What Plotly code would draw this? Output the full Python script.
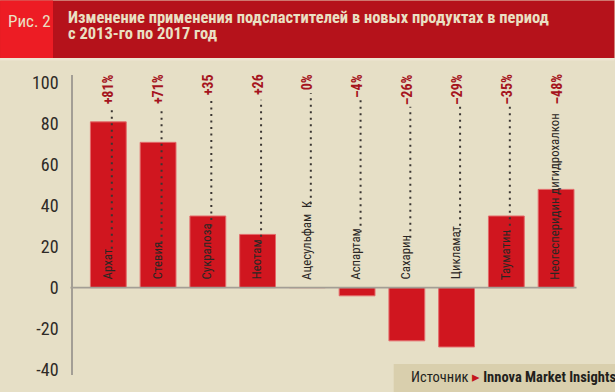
import plotly.graph_objects as go

# ---- data ----
categories = ["Архат", "Стевия", "Сукралоза", "Неотам", "Ацесульфам  К",
              "Аспартам", "Сахарин", "Цикламат", "Тауматин",
              "Неогесперидин дигидрохалкон"]
values = [81, 71, 35, 26, 0, -4, -26, -29, 35, 48]
pct_labels = ["+81%", "+71%", "+35", "+26", "0%", "–4%", "–26%", "–29%", "–35%", "–48%"]
tick_vals = [-40, -20, 0, 20, 40, 60, 80, 100]
tick_text = ["-40", "-20", "0", "20", "40", "60", "80", "100"]
title_line1 = "Изменение применения подсластителей в новых продуктах в период"
title_line2 = "с 2013-го по 2017 год"
fig_label = "Рис. 2"
source_lbl = "Источник"
source_name = "Innova Market Insights"

# ---- styles / geometry ----
W, H = 615, 392
BG = "#E6DFC6"
HEAD = "#B5121B"
HEAD_BOX = "#ED1C24"
CREAM = "#EAE0C4"
BAR = "#D0161F"
BAR_EDGE = "#E36A6A"
PCT = "#A5141D"
FONT = "Roboto Condensed, Open Sans Condensed, sans-serif"

L, R, T, B = 73, 576.5, 75, 377
YMIN, YMAX = -42.7, 103.9
XMIN, XMAX = -0.71, 9.4
PPU = (B - T) / (YMAX - YMIN)


def px2y(py):
    return YMAX - (py - T) / PPU


def pxx(px):
    return (px - L) / (R - L)


def pxy(py):
    return (B - py) / (B - T)


fig = go.Figure()
fig.add_trace(go.Bar(
    x=list(range(len(categories))), y=values,
    marker=dict(color=BAR, line=dict(color=BAR_EDGE, width=1)),
    width=0.72, hoverinfo="skip", showlegend=False,
))

shapes = []
annotations = []

# header band
shapes.append(dict(type="rect", xref="paper", yref="paper",
                   x0=pxx(0), x1=pxx(W), y0=pxy(0), y1=pxy(58),
                   fillcolor=HEAD, line=dict(width=0), layer="above"))
shapes.append(dict(type="rect", xref="paper", yref="paper",
                   x0=pxx(0), x1=pxx(53), y0=pxy(0), y1=pxy(58),
                   fillcolor=HEAD_BOX, line=dict(width=0), layer="above"))
shapes.append(dict(type="rect", xref="paper", yref="paper",
                   x0=pxx(0), x1=pxx(W), y0=pxy(58), y1=pxy(60.5),
                   fillcolor="#EDE6D2", line=dict(width=0), layer="above"))
annotations.append(dict(xref="paper", yref="paper", x=pxx(29.5), y=pxy(20.5),
                        text=fig_label, showarrow=False, xanchor="center", yanchor="middle",
                        font=dict(family=FONT, size=17, color=CREAM)))
annotations.append(dict(xref="paper", yref="paper", x=pxx(66), y=pxy(17.5),
                        text="<b>" + title_line1 + "</b>", showarrow=False,
                        xanchor="left", yanchor="middle",
                        font=dict(family=FONT, size=16.5, color=CREAM)))
annotations.append(dict(xref="paper", yref="paper", x=pxx(66), y=pxy(33.5),
                        text="<b>" + title_line2 + "</b>", showarrow=False,
                        xanchor="left", yanchor="middle",
                        font=dict(family=FONT, size=16.5, color=CREAM)))

# zero line
shapes.append(dict(type="line", xref="paper", yref="y",
                   x0=pxx(70.5), x1=pxx(577), y0=0, y1=0,
                   line=dict(color="#A39E95", width=1.6), layer="above"))

# labels and dotted leaders
CAT_PX = 5.6   # approx px per char of category text
PCT_PX = 7.0   # approx px per char of pct text
for i, (name, lab) in enumerate(zip(categories, pct_labels)):
    annotations.append(dict(x=i - 0.02, y=px2y(283), xref="x", yref="y",
                            text=name, textangle=-90, showarrow=False,
                            xanchor="center", yanchor="bottom",
                            font=dict(family=FONT, size=12.8, color="#2A2623")))
    annotations.append(dict(x=i, y=pxy(72), xref="x", yref="paper",
                            text="<b>" + lab + "</b>", textangle=-90, showarrow=False,
                            xanchor="center", yanchor="top",
                            font=dict(family=FONT, size=14, color=PCT)))
    top_px = 72 + len(lab) * PCT_PX + 7
    bot_px = 283 - len(name) * CAT_PX - 5
    if bot_px - top_px > 20:
        shapes.append(dict(type="line", xref="x", yref="y",
                           x0=i + 0.07, x1=i + 0.07, y0=px2y(bot_px), y1=px2y(top_px),
                           line=dict(color="#3A3632", width=2, dash="2px,4.5px"),
                           layer="above"))

# source box
shapes.append(dict(type="rect", xref="paper", yref="paper",
                   x0=pxx(394), x1=pxx(W + 2), y0=pxy(366), y1=pxy(H + 2),
                   fillcolor="#D9CFAD", line=dict(width=0), layer="above"))
annotations.append(dict(xref="paper", yref="paper", x=pxx(409), y=pxy(379.5),
                        text=source_lbl + " <span style='color:#C4161C'>▸</span> <b>" + source_name + "</b>",
                        showarrow=False, xanchor="left", yanchor="middle",
                        font=dict(family=FONT, size=14.5, color="#231F1C")))

fig.update_layout(
    width=W, height=H,
    margin=dict(l=L, r=W - R, t=T, b=H - B, pad=0),
    paper_bgcolor=BG, plot_bgcolor=BG,
    shapes=shapes, annotations=annotations,
    xaxis=dict(range=[XMIN, XMAX], showticklabels=False, showgrid=False,
               zeroline=False, showline=False, fixedrange=True),
    yaxis=dict(range=[YMIN, YMAX], tickvals=tick_vals, ticktext=tick_text,
               showgrid=False, zeroline=False, showline=True,
               linecolor="#A39E95", linewidth=1.6, ticks="",
               ticklabelstandoff=9,
               tickfont=dict(family=FONT, size=18, color="#2E2A27"),
               fixedrange=True),
    bargap=0.28,
)

fig.write_html("out.html", config={"displayModeBar": False},
               post_script="document.body.style.margin='0';document.body.style.overflow='hidden';")
